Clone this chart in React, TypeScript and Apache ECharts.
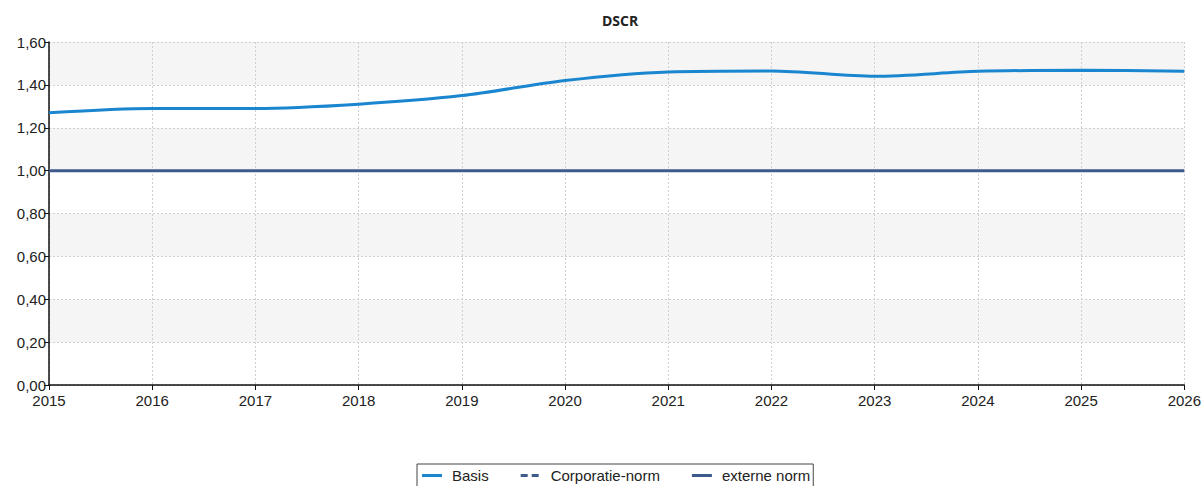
import React, { useEffect, useRef } from "react";
import * as echarts from "echarts";

const years = ["2015", "2016", "2017", "2018", "2019", "2020", "2021", "2022", "2023", "2024", "2025", "2026"];
const basis = [1.27, 1.29, 1.29, 1.31, 1.35, 1.42, 1.46, 1.465, 1.44, 1.463, 1.468, 1.463];
const corporatieNorm: (number | null)[] = [null, null, null, null, null, null, null, null, null, null, null, null];
const externeNorm = [1, 1, 1, 1, 1, 1, 1, 1, 1, 1, 1, 1];

const FONT = "Liberation Sans, Arial, sans-serif";
const SOLID_ICON = "path://M0,0H20V3H0Z";
const DASH_ICON = "path://M0,0H7V3H0Z M11,0H18V3H11Z M20,0H20V3H20Z";

export default function App() {
  const ref = useRef<HTMLDivElement>(null);
  useEffect(() => {
    if (!ref.current) return;
    const chart = echarts.init(ref.current, undefined, { renderer: "svg" });
    chart.setOption({
      animation: false,
      backgroundColor: "#fff",
      title: {
        text: "DSCR",
        left: 597,
        top: 8,
        textStyle: { fontSize: 14, fontWeight: "bold", color: "#222", fontFamily: "Open Sans, sans-serif" },
      },
      grid: { left: 49, right: 19, top: 42, height: 343 },
      xAxis: {
        type: "category",
        data: years,
        boundaryGap: false,
        axisLine: { lineStyle: { color: "#111", width: 1.5 } },
        axisTick: { show: true, length: 5, lineStyle: { color: "#111" } },
        axisLabel: { color: "#222", fontSize: 15, fontFamily: FONT, margin: 8 },
        splitLine: { show: true, lineStyle: { color: "#cfcfcf", type: [2, 2] } },
      },
      yAxis: {
        type: "value",
        min: 0,
        max: 1.6,
        interval: 0.2,
        axisLine: { show: true, lineStyle: { color: "#111", width: 1.5 } },
        axisTick: { show: true, length: 5, lineStyle: { color: "#111" } },
        axisLabel: {
          color: "#222",
          fontSize: 15,
          fontFamily: FONT,
          margin: 3,
          formatter: (v: number) => v.toFixed(2).replace(".", ","),
        },
        splitLine: { show: true, lineStyle: { color: "#cfcfcf", type: [2, 2] } },
        splitArea: { show: true, areaStyle: { color: ["#ffffff", "#f5f5f5"] } },
      },
      legend: {
        top: 464,
        left: 417,
        borderColor: "#444",
        borderWidth: 1,
        padding: [4, 3, 8, 5],
        itemGap: 32,
        itemWidth: 20,
        itemHeight: 3,
        textStyle: { color: "#222", fontSize: 15, fontFamily: FONT, padding: [0, 0, 0, 5] },
        data: [
          { name: "Basis", icon: SOLID_ICON },
          { name: "Corporatie-norm", icon: DASH_ICON },
          { name: "externe norm", icon: SOLID_ICON },
        ],
      },
      series: [
        {
          name: "Basis",
          type: "line",
          data: basis,
          smooth: 0.3,
          symbol: "none",
          lineStyle: { color: "#1a86d0", width: 3 },
          itemStyle: { color: "#1a86d0" },
          z: 3,
        },
        {
          name: "Corporatie-norm",
          type: "line",
          data: corporatieNorm,
          symbol: "none",
          lineStyle: { color: "#3d5a8a", width: 3, type: [6, 5] },
          itemStyle: { color: "#3d5a8a" },
        },
        {
          name: "externe norm",
          type: "line",
          data: externeNorm,
          symbol: "none",
          lineStyle: { color: "#3d5a8a", width: 3 },
          itemStyle: { color: "#3d5a8a" },
          z: 2,
        },
      ],
    });
    return () => chart.dispose();
  }, []);
  return <div ref={ref} style={{ position: "absolute", left: 0, top: 0, width: 1204, height: 486 }} />;
}
